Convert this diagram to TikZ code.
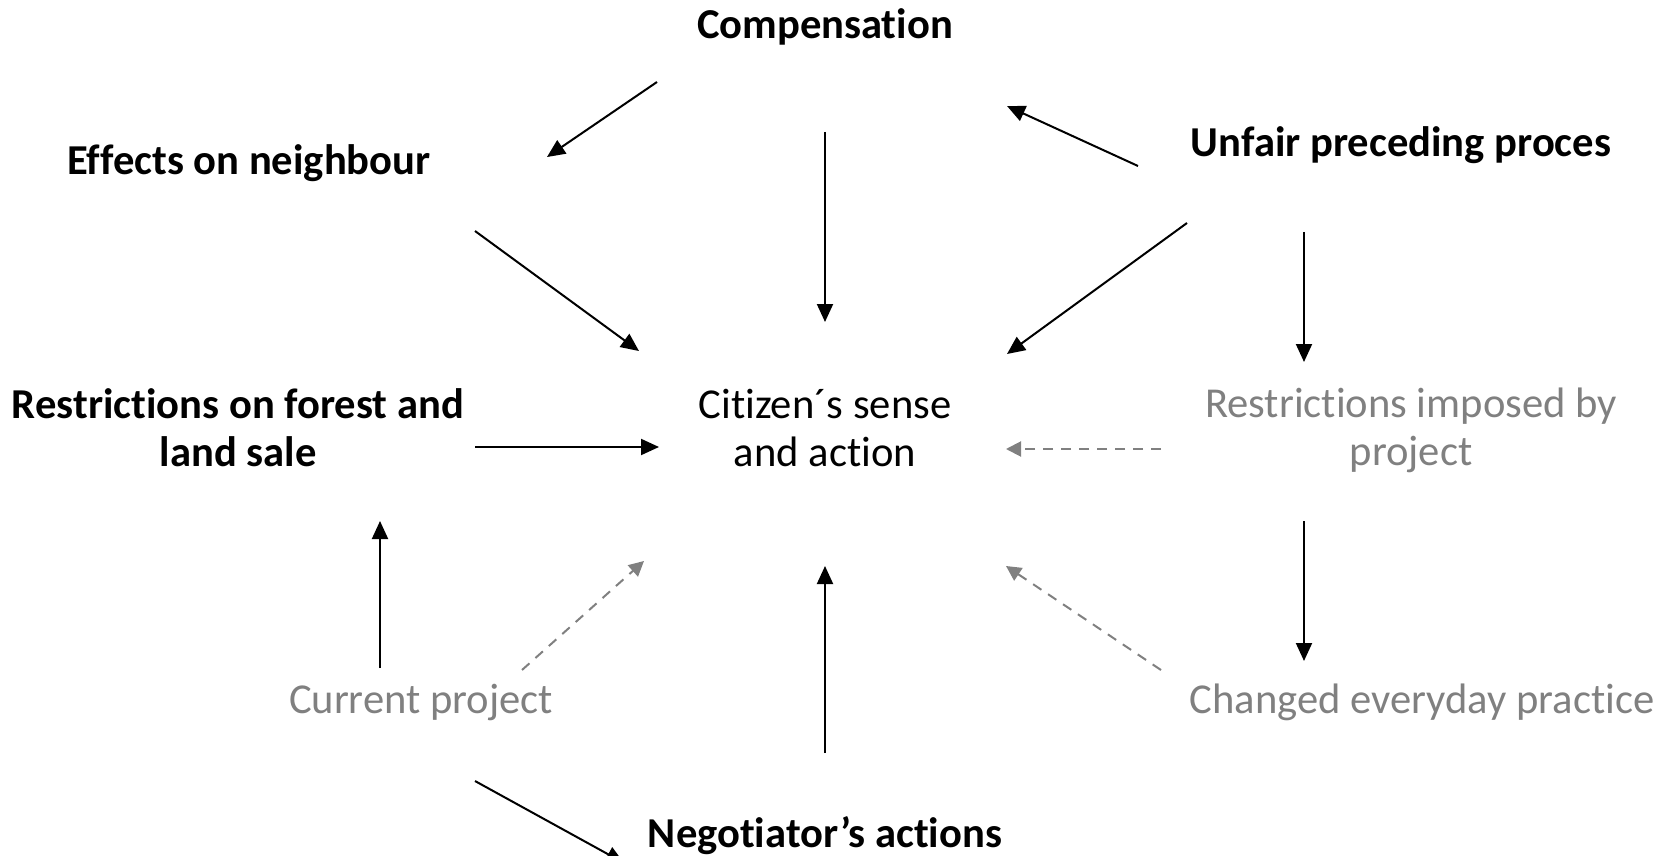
\documentclass[tikz,border=0pt]{standalone}
\usepackage{fontspec}
\setmainfont{Carlito}[Ligatures=NoCommon]
\usetikzlibrary{arrows.meta}
\definecolor{projgray}{HTML}{808080}
\tikzset{
  txt/.style={inner sep=0pt,align=center,font=\fontsize{21.3}{24}\selectfont},
  key/.style={txt,font=\fontsize{21.3}{24}\selectfont\bfseries},
  proj/.style={txt,text=projgray},
  arr/.style={line width=1pt,-{Triangle[length=9pt,width=8pt]}},
  darr/.style={line width=1pt,projgray,dash pattern=on 5pt off 4pt,-{Triangle[length=7.5pt,width=7.5pt]}}
}
\begin{document}
\begin{tikzpicture}[x=0.5pt,y=-0.5pt]
  \useasboundingbox (0,0) rectangle (1662,856);
  \node[key] (comp) at (825,27) {Compensation};
  \node[key] (eff) at (249,163) {Effects on neighbour};
  \node[key] (unf) at (1401,145) {Unfair preceding proces};
  \node[key] (rfl) at (238,428) {Restrictions on forest and\\land sale};
  \node[txt] (cit) at (825,428) {Citizen´s sense\\and action};
  \node[proj] (rip) at (1411,430) {Restrictions imposed by\\project};
  \node[proj] (cur) at (421,702) {Current project};
  \node[proj] (chg) at (1422,702) {Changed everyday practice};
  \node[key] (neg) at (825,836) {Negotiator’s actions};
  \draw[arr] ([shift={(-168,55)}]comp.center) -- ([shift={(298,-6)}]eff.center);
  \draw[arr] ([shift={(0,105)}]comp.center) -- ([shift={(0,-106)}]cit.center);
  \draw[arr] ([shift={(-263,21)}]unf.center) -- ([shift={(182,79)}]comp.center);
  \draw[arr] ([shift={(-214,78)}]unf.center) -- ([shift={(182,-74)}]cit.center);
  \draw[arr] ([shift={(-97,87)}]unf.center) -- ([shift={(-107,-68)}]rip.center);
  \draw[arr] ([shift={(226,68)}]eff.center) -- ([shift={(-186,-77)}]cit.center);
  \draw[arr] ([shift={(237,19)}]rfl.center) -- ([shift={(-166,19)}]cit.center);
  \draw[darr] ([shift={(-250,19)}]rip.center) -- ([shift={(181,21)}]cit.center);
  \draw[arr] ([shift={(-107,91)}]rip.center) -- ([shift={(-118,-41)}]chg.center);
  \draw[arr] ([shift={(-41,-34)}]cur.center) -- ([shift={(142,93)}]rfl.center);
  \draw[darr] ([shift={(101,-32)}]cur.center) -- ([shift={(-181,133)}]cit.center);
  \draw[darr] ([shift={(-261,-32)}]chg.center) -- ([shift={(181,138)}]cit.center);
  \draw[arr] ([shift={(0,-83)}]neg.center) -- ([shift={(0,138)}]cit.center);
  \draw[arr] ([shift={(54,79)}]cur.center) -- ([shift={(-201,27)}]neg.center);
\end{tikzpicture}
\end{document}
